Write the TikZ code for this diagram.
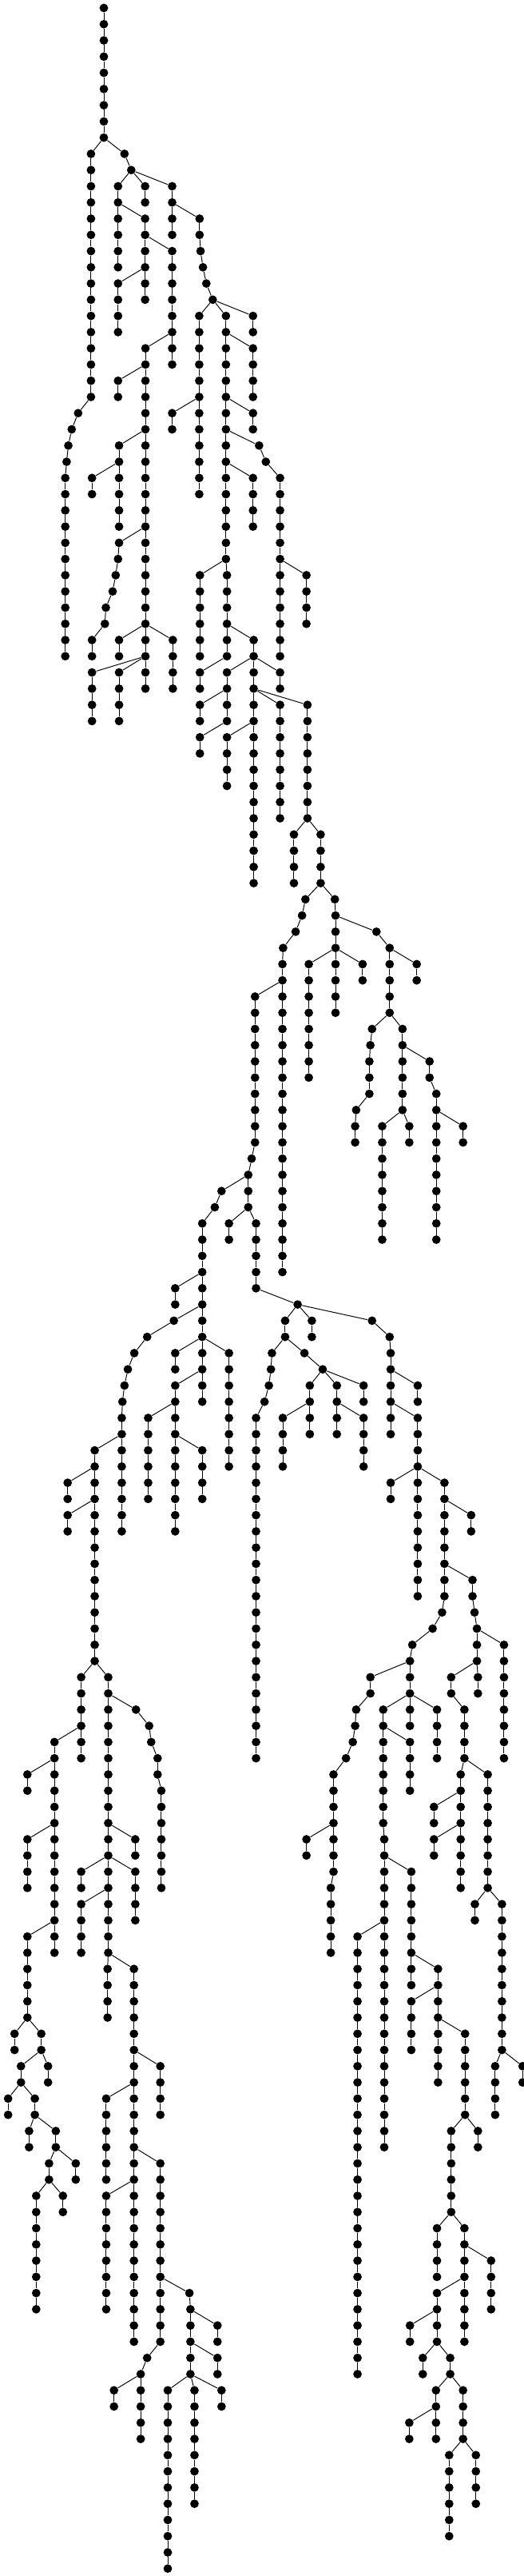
\documentclass[tikz,border=0pt]{standalone}
\begin{document}
\begin{tikzpicture}[
  x=0.0084755cm, y=-0.4054cm,
  tree dot/.style={circle, fill=black, inner sep=0pt, minimum size=0.215cm},
  tree edge/.style={line width=0.55pt},
  ]
  \useasboundingbox (0,-0.4933) rectangle (1548,158.46);
  \foreach \c/\a/\b in {307/0/8, 269/9/24, 368/9/9, 388/10/10, 349/11/16, 429/11/12, 509/11/14,
    429/13/18, 509/15/22, 349/17/20, 430/21/42, 349/23/24, 590/13/14, 593/15/15, 600/16/16,
    610/17/17, 629/18/18, 589/19/30, 509/25/26, 668/19/34, 748/19/20, 748/21/24, 748/25/26,
    766/27/27, 786/28/28, 828/29/40, 748/29/32, 591/35/40, 671/35/40, 750/39/54, 906/35/38,
    231/25/25, 212/26/26, 202/27/27, 197/28/28, 193/29/40, 352/27/32, 272/29/30, 352/33/33,
    349/34/34, 342/35/35, 333/36/36, 313/37/37, 310/38/38, 272/39/40, 352/39/40, 511/39/42,
    272/41/44, 352/41/44, 671/41/44, 591/41/42, 591/43/44, 591/45/46, 671/45/48, 828/41/42,
    828/43/50, 909/43/50, 869/51/54, 948/51/54, 903/55/55, 893/56/56, 874/57/57, 837/58/58,
    835/59/78, 754/61/70, 744/71/71, 734/72/74, 655/73/73, 635/74/74, 598/75/86, 518/79/80,
    514/81/81, 435/82/82, 397/83/83, 378/84/84, 368/85/85, 362/86/86, 360/87/94, 280/89/102,
    200/91/92, 200/93/94, 518/83/84, 518/85/94, 438/87/92, 598/89/92, 677/83/90, 677/75/76,
    757/75/79, 880/80/80, 843/81/82, 922/81/82, 804/83/83, 801/84/84, 795/85/85, 782/86/86,
    757/87/108, 900/83/83, 954/84/84, 916/85/88, 836/87/90, 996/85/88, 1075/87/90, 1075/85/86,
    1100/81/81, 1152/82/82, 1155/83/88, 1235/85/86, 1235/87/98, 1155/91/92, 1314/91/98,
    1393/93/94, 1397/97/98, 1403/99/99, 1410/100/102, 1490/101/108, 1334/103/104, 1413/103/104,
    1373/105/108, 1362/109/116, 1283/111/112, 1283/113/114, 1442/109/116, 1404/117/118,
    1484/117/126, 1464/127/130, 1545/127/128, 1307/99/99, 1279/100/100, 1219/101/101,
    1212/102/106, 1095/103/104, 1053/105/105, 1050/106/106, 1043/107/107, 1023/108/108,
    986/109/115, 978/116/120, 906/113/114, 1133/105/112, 1136/113/132, 1212/107/110,
    1292/105/108, 1216/115/122, 1057/119/146, 1295/121/128, 1216/123/126, 1375/125/130,
    1334/131/136, 1413/131/132, 1292/137/140, 1373/137/144, 1452/139/142, 1292/141/144,
    1212/143/144, 1250/145/146, 1331/145/146, 1289/147/150, 1210/149/150, 1369/147/150,
    1328/151/156, 1407/151/154, 240/103/108, 161/107/120, 81/109/110, 81/113/116, 81/119/124,
    43/125/126, 122/125/126, 62/127/128, 142/127/128, 24/129/130, 103/129/130, 86/131/132,
    165/131/132, 145/133/134, 224/133/134, 107/135/142, 186/135/136, 320/103/120, 402/105/105,
    441/106/106, 447/107/107, 466/108/109, 477/110/116, 400/113/114, 240/115/116, 400/115/118,
    240/117/120, 318/121/124, 396/121/144, 474/127/130, 314/129/134, 474/133/144, 314/135/142,
    435/145/145, 416/146/150, 337/147/148, 560/141/141, 563/142/146, 643/143/144, 643/145/146,
    496/147/158, 575/147/154, 655/147/148, 990/55/55, 992/56/62, 1113/57/57, 1152/58/62,
    913/59/66, 1072/59/60, 1232/59/60, 1100/63/63, 1095/64/64, 1092/65/67, 1053/68/68,
    1050/69/70, 1190/63/68, 1270/65/66, 1290/67/76, 1369/69/70, 1130/69/76, 1210/69/70} {
    \foreach \l in {\a,...,\b} {
      \node[tree dot] (n\l-\c) at (\c,\l) {};
    }
    \ifnum\a<\b
      \pgfmathtruncatemacro\e{\b-1}
      \foreach \l in {\a,...,\e} {
        \pgfmathtruncatemacro\m{\l+1}
        \draw[tree edge] (n\l-\c) -- (n\m-\c);
      }
    \fi
  }
  \foreach \p/\l/\q in {307/8/269, 307/8/368, 368/9/388, 388/10/349, 388/10/429, 388/10/509,
    349/12/429, 429/14/509, 429/16/349, 509/20/430, 430/22/349,
    509/12/590, 590/14/593, 593/15/600, 600/16/610, 610/17/629,
    629/18/589, 629/18/668, 629/18/748,
    589/24/509, 668/20/748, 668/24/748, 668/26/766, 766/27/786, 786/28/828,
    668/28/748, 668/34/591, 668/34/671, 671/38/750, 828/34/906,
    269/24/231, 231/25/212, 212/26/202, 202/27/197, 197/28/193,
    430/26/352, 352/28/272, 430/32/352, 352/33/349, 349/34/342, 342/35/333, 333/36/313,
    313/37/310, 310/38/272, 430/38/352, 430/38/511, 430/40/272, 430/40/352,
    750/40/671, 671/40/591, 671/42/591, 671/44/591, 750/44/671, 750/40/828, 750/42/828,
    750/42/909, 909/50/869, 909/50/948,
    948/54/903, 903/55/893, 893/56/874, 874/57/837, 837/58/835,
    835/60/754, 754/70/744, 744/71/734, 734/72/655, 655/73/635, 635/74/598,
    598/78/518, 598/80/514, 514/81/435, 435/82/397, 397/83/378, 378/84/368, 368/85/362,
    362/86/360, 360/88/280, 280/90/200, 280/92/200,
    598/82/518, 598/82/677, 598/84/518, 518/86/438, 518/88/598,
    734/74/677, 734/74/757, 757/79/880, 880/80/843, 880/80/922, 880/80/1100,
    843/82/804, 804/83/801, 801/84/795, 795/85/782, 782/86/757,
    843/82/900, 900/83/954, 954/84/916, 954/84/996, 954/84/1075, 916/86/836, 996/86/1075,
    1100/81/1152, 1152/82/1155, 1155/84/1235, 1155/86/1235,
    1235/90/1155, 1235/90/1314, 1314/92/1393, 1314/96/1397, 1397/98/1403, 1403/99/1410,
    1410/100/1490, 1410/102/1334, 1410/102/1413, 1334/104/1373,
    1373/108/1362, 1373/108/1442, 1362/110/1283, 1362/112/1283,
    1442/116/1404, 1442/116/1484, 1484/126/1464, 1484/126/1545,
    1314/98/1307, 1307/99/1279, 1279/100/1219, 1219/101/1212,
    1212/102/1095, 1095/104/1053, 1053/105/1050, 1050/106/1043, 1043/107/1023, 1023/108/986,
    986/115/978, 986/112/906,
    1212/104/1133, 1212/104/1292, 1133/106/1212, 1133/112/1136, 1136/114/1216, 1136/118/1057,
    1216/120/1295, 1295/122/1216, 1295/124/1375, 1375/130/1334, 1375/130/1413,
    1334/136/1292, 1334/136/1373, 1373/138/1452, 1373/140/1292, 1292/142/1212,
    1292/144/1250, 1292/144/1331, 1331/146/1289, 1331/146/1369, 1289/148/1210,
    1369/150/1328, 1369/150/1407,
    280/102/240, 280/102/320, 240/106/161, 161/108/81, 161/112/81, 161/118/81,
    81/124/43, 81/124/122, 122/126/62, 122/126/142, 62/128/24, 62/128/103,
    103/130/86, 103/130/165, 165/132/145, 165/132/224, 145/134/107, 145/134/186,
    320/104/402, 402/105/441, 441/106/447, 447/107/466, 466/109/477,
    320/112/400, 320/114/240, 320/114/400, 320/116/240, 320/120/318, 320/120/396,
    396/126/474, 396/128/314, 396/132/474, 396/134/314,
    474/140/560, 474/144/435, 435/145/416, 416/146/337,
    560/141/563, 563/142/643, 563/144/643, 563/146/496, 563/146/575, 563/146/655,
    948/54/990, 990/55/992, 992/56/1113, 1113/57/1152,
    992/58/913, 992/58/1072, 1152/58/1232,
    1152/62/1100, 1100/63/1095, 1095/64/1092, 1092/67/1053, 1053/68/1050,
    1152/62/1190, 1190/64/1270, 1270/66/1290, 1290/68/1369,
    1190/68/1130, 1190/68/1210} {
    \pgfmathtruncatemacro\m{\l+1}
    \draw[tree edge] (n\l-\p) -- (n\m-\q);
  }
\end{tikzpicture}
\end{document}
